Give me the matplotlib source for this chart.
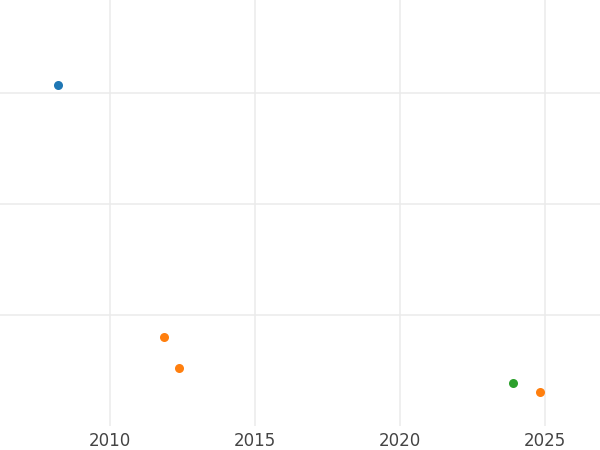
import matplotlib
matplotlib.use("Agg")
import matplotlib.pyplot as plt

# series: each is a group of (year, value) points
series_names = ["series_a", "series_b", "series_c"]
series_colors = ["#1f77b4", "#ff7f0e", "#2ca02c"]
years_a = [2008.2]
values_a = [3.07]
years_b = [2011.86, 2012.38, 2024.83]
values_b = [0.80, 0.52, 0.30]
years_c = [2023.9]
values_c = [0.38]

x_ticks = [2010, 2015, 2020, 2025]
y_ticks = [1, 2, 3]

fig = plt.figure(figsize=(6, 4.5), dpi=100)
ax = fig.add_axes([0, 0.0544, 1, 0.9456])

for xs, ys, c in zip([years_a, years_b, years_c], [values_a, values_b, values_c], series_colors):
	ax.plot(xs, ys, "o", color=c, markersize=6.5, markeredgewidth=0, zorder=3)

ax.set_xlim(2006.21, 2026.9)
ax.set_ylim(0, 3.84)
ax.set_xticks(x_ticks)
ax.set_yticks(y_ticks)
ax.set_yticklabels([])
ax.grid(True, color="#ebebeb", linewidth=1.1)
ax.set_axisbelow(True)
ax.tick_params(axis="both", length=0, labelsize=12, labelcolor="#444444", pad=5)
for s in ax.spines.values():
	s.set_visible(False)

fig.savefig("out.png", dpi=100)
